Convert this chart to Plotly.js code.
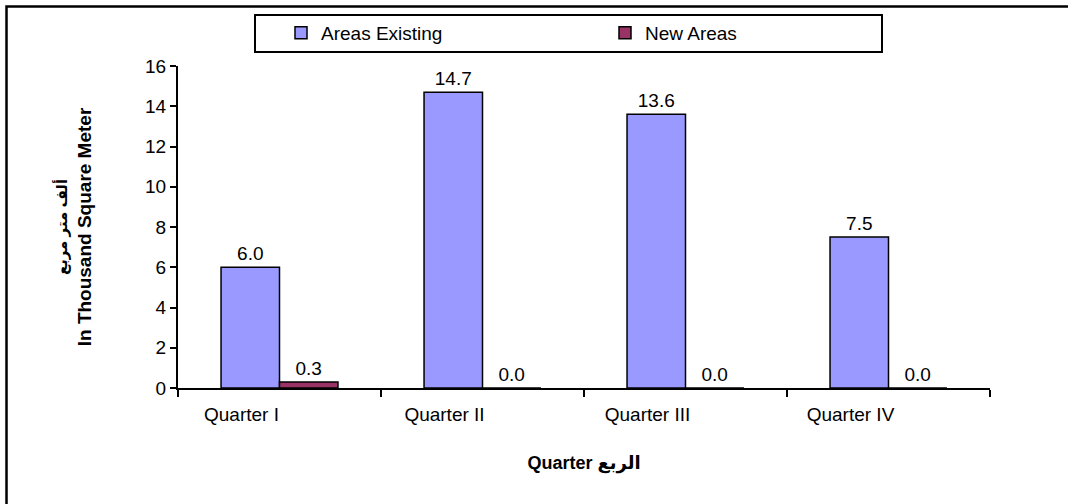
<!DOCTYPE html>
<html>
<head>
<meta charset="utf-8">
<script src="https://cdn.plot.ly/plotly-3.0.1.min.js"></script>
<style>html,body{margin:0;padding:0;background:#fff;}#chart{width:1068px;height:504px;}</style>
</head>
<body>
<div id="chart"></div>
<script>
const quarters = ["Quarter I", "Quarter II", "Quarter III", "Quarter IV"];
const areasExisting = [6.0, 14.7, 13.6, 7.5];
const newAreas = [0.3, 0.0, 0.0, 0.0];
const seriesNames = ["Areas Existing", "New Areas"];
const yTicks = [0, 2, 4, 6, 8, 10, 12, 14, 16];
const xTitle = "Quarter الربع";
const yTitleAr = "ألف متر مربع";
const yTitleEn = "In Thousand Square Meter";

const FONT = "Liberation Sans, Arial, DejaVu Sans, sans-serif";

// pixel helpers for paper coordinates
const L = 178, R = 78, T = 66, B = 116, W = 1068, H = 504;
const pw = W - L - R, ph = H - T - B;
const px = v => (v - L) / pw;
const py = v => (H - B - v) / ph;

const traces = [
  {
    type: "bar", name: seriesNames[0], x: quarters, y: areasExisting,
    marker: {color: "#9999FF", line: {color: "#000000", width: 1.5}},
    text: areasExisting.map(v => v.toFixed(1)), textposition: "outside",
    textfont: {family: FONT, size: 19, color: "#000"}, cliponaxis: false,
    hoverinfo: "x+y+name"
  },
  {
    type: "bar", name: seriesNames[1], x: quarters, y: newAreas,
    marker: {color: "#993366", line: {color: "#000000", width: 1.5}},
    text: newAreas.map(v => v.toFixed(1)), textposition: "outside",
    textfont: {family: FONT, size: 19, color: "#000"}, cliponaxis: false,
    hoverinfo: "x+y+name"
  }
];

const layout = {
  width: W, height: H,
  margin: {l: L, r: R, t: T, b: B, pad: 0},
  paper_bgcolor: "#ffffff", plot_bgcolor: "#ffffff",
  font: {family: FONT, size: 19, color: "#000"},
  barmode: "group", bargap: 0.424, bargroupgap: 0,
  showlegend: true,
  legend: {
    orientation: "h", x: px(281), xanchor: "left", y: py(14), yanchor: "top",
    bgcolor: "rgba(0,0,0,0)", borderwidth: 0, entrywidth: 279, entrywidthmode: "pixels",
    font: {family: FONT, size: 19, color: "#000"}, traceorder: "normal"
  },
  xaxis: {
    type: "category", showline: true, linecolor: "#000", linewidth: 2,
    ticks: "outside", ticklen: 7, tickwidth: 2, tickcolor: "#000", tickson: "boundaries",
    showgrid: false, zeroline: false, ticklabelshift: -38, ticklabelstandoff: 8,
    tickfont: {family: FONT, size: 19, color: "#000"},
    title: {text: xTitle, standoff: 33, font: {family: FONT, size: 18, color: "#000", weight: "bold"}},
    automargin: false, fixedrange: true
  },
  yaxis: {
    range: [0, 16], tickvals: yTicks, ticktext: yTicks.map(String),
    showline: true, linecolor: "#000", linewidth: 2,
    ticks: "outside", ticklen: 6, tickwidth: 2, tickcolor: "#000",
    showgrid: false, zeroline: false,
    tickfont: {family: FONT, size: 19, color: "#000"},
    title: {text: '<span style="font-size:15px">' + yTitleAr + '</span><br>' + yTitleEn, standoff: 48,
      font: {family: FONT, size: 19, color: "#000", weight: "bold"}},
    automargin: false, fixedrange: true
  },
  shapes: [
    {type: "rect", xref: "paper", yref: "paper", x0: px(6.5), y0: py(600), x1: px(1200), y1: py(6.5),
     line: {color: "#000", width: 2.5}, fillcolor: "rgba(0,0,0,0)", layer: "below"},
    {type: "rect", xref: "paper", yref: "paper", x0: px(255), y0: py(52), x1: px(882), y1: py(15),
     line: {color: "#000", width: 2}, fillcolor: "rgba(0,0,0,0)", layer: "above"}
  ]
};

Plotly.newPlot("chart", traces, layout, {displayModeBar: false, staticPlot: true});
</script>
</body>
</html>
